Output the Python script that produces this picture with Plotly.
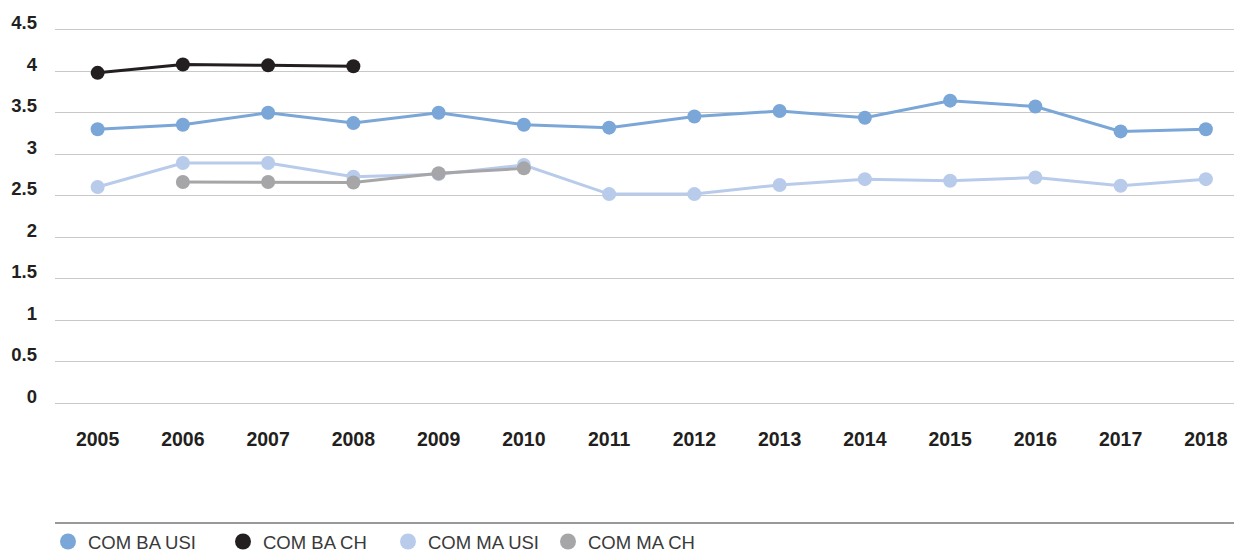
import plotly.graph_objects as go

years = ["2005", "2006", "2007", "2008", "2009", "2010", "2011", "2012", "2013", "2014", "2015", "2016", "2017", "2018"]
com_ba_usi = [3.30, 3.355, 3.50, 3.375, 3.50, 3.355, 3.32, 3.455, 3.52, 3.44, 3.645, 3.575, 3.275, 3.30]
com_ba_ch = [3.98, 4.08, 4.07, 4.06, None, None, None, None, None, None, None, None, None, None]
com_ma_usi = [2.605, 2.895, 2.895, 2.73, 2.76, 2.87, 2.52, 2.52, 2.63, 2.70, 2.68, 2.72, 2.62, 2.70]
com_ma_ch = [None, 2.665, 2.665, 2.66, 2.77, 2.83, None, None, None, None, None, None, None, None]
y_ticks = [0, 0.5, 1, 1.5, 2, 2.5, 3, 3.5, 4, 4.5]
y_tick_text = ["0", "0.5", "1", "1.5", "2", "2.5", "3", "3.5", "4", "4.5"]

series_names = ["COM BA USI", "COM BA CH", "COM MA USI", "COM MA CH"]
series_values = [com_ba_usi, com_ba_ch, com_ma_usi, com_ma_ch]
series_colors = ["#7BA6D8", "#231F20", "#B8CBEA", "#A6A6A8"]

W, H = 1234, 553
L, R, T, B = 55, 0, 28, 148
plot_w = W - L - R
plot_h = H - T - B

fig = go.Figure()
# draw order: light series first so darker ones overlay like reference
for i in [2, 3, 0, 1]:
    fig.add_trace(go.Scatter(
        x=years, y=series_values[i], name=series_names[i], mode="lines+markers",
        line=dict(color=series_colors[i], width=3),
        marker=dict(color=series_colors[i], size=14),
        connectgaps=False, showlegend=False,
    ))

# one legend per entry so the spacing matches the reference
legend_px = [48, 223, 388, 548]
legend_y_px = 542
legend_keys = ["legend", "legend2", "legend3", "legend4"]
for i in range(4):
    fig.add_trace(go.Scatter(
        x=[None], y=[None], name=series_names[i], mode="markers",
        marker=dict(color=series_colors[i], size=19), showlegend=True,
        legend=legend_keys[i],
    ))

def legend_cfg(px):
    return dict(
        orientation="h", x=(px - L) / plot_w, xanchor="left",
        y=-(legend_y_px - (T + plot_h)) / plot_h, yanchor="middle",
        font=dict(size=18.5, color="#3A3A3A", family="Liberation Sans, Arial, sans-serif"),
        itemsizing="trace", bgcolor="rgba(0,0,0,0)",
    )

line_y = -(523 - (T + plot_h)) / plot_h
fig.add_shape(type="line", xref="paper", yref="paper", x0=0, x1=1,
              y0=line_y, y1=line_y, line=dict(color="#333333", width=1))

fig.update_layout(
    width=W, height=H,
    margin=dict(l=L, r=R, t=T, b=B, autoexpand=False),
    paper_bgcolor="white", plot_bgcolor="white",
    font=dict(family="Liberation Sans, Arial, sans-serif", color="#231F20"),
    xaxis=dict(
        type="category", range=[-0.5, 13.33], showgrid=False, zeroline=False,
        showline=False, ticks="", ticklabelstandoff=20, automargin=False,
        tickfont=dict(size=19.5, weight="bold", color="#231F20"),
    ),
    yaxis=dict(
        range=[-0.02, 4.52], tickvals=y_ticks, ticktext=y_tick_text,
        showgrid=True, gridcolor="#C8C8C8", gridwidth=1, zeroline=False,
        showline=False, ticks="", ticklabelstandoff=17, ticklabelshift=-7,
        automargin=False,
        tickfont=dict(size=18.5, weight="bold", color="#231F20"),
    ),
    showlegend=True,
    legend=legend_cfg(legend_px[0]),
    legend2=legend_cfg(legend_px[1]),
    legend3=legend_cfg(legend_px[2]),
    legend4=legend_cfg(legend_px[3]),
)

fig.write_html(
    "out.html",
    config={"displayModeBar": False},
    post_script="document.body.style.margin='0';document.body.style.overflow='hidden';",
)
